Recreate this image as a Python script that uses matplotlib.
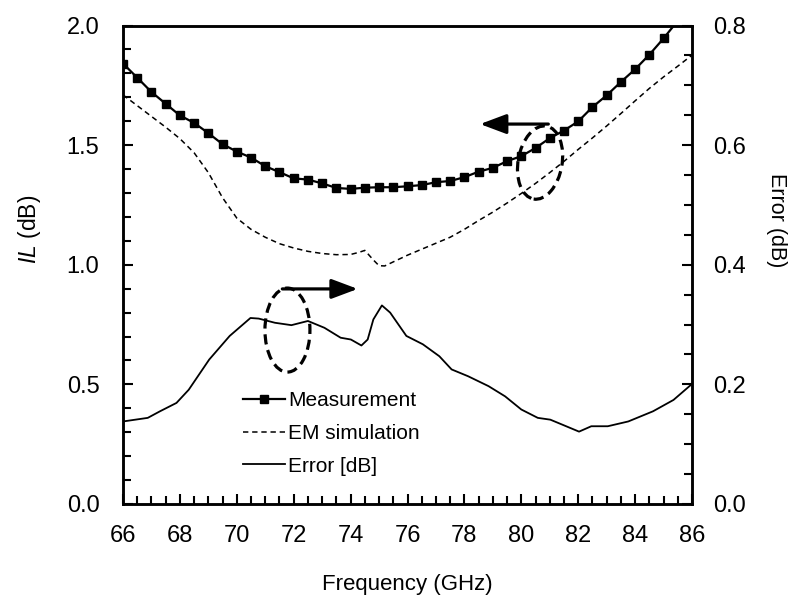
import matplotlib
matplotlib.use("Agg")
import matplotlib.pyplot as plt
from matplotlib.patches import Ellipse
from matplotlib.ticker import MultipleLocator
from matplotlib.transforms import ScaledTranslation

plt.rcParams['font.family'] = ['Liberation Sans', 'DejaVu Sans']
plt.rcParams['mathtext.fontset'] = 'custom'
plt.rcParams['mathtext.it'] = 'Liberation Sans:italic'
plt.rcParams['mathtext.rm'] = 'Liberation Sans'

# measurement (markers every 0.5 GHz)
meas_f = [66.0, 66.5, 67.0, 67.5, 68.0, 68.5, 69.0, 69.5, 70.0, 70.5,
          71.0, 71.5, 72.0, 72.5, 73.0, 73.5, 74.0, 74.5, 75.0, 75.5,
          76.0, 76.5, 77.0, 77.5, 78.0, 78.5, 79.0, 79.5, 80.0, 80.5,
          81.0, 81.5, 82.0, 82.5, 83.0, 83.5, 84.0, 84.5, 85.0, 85.5]
meas_il = [1.841, 1.782, 1.722, 1.673, 1.624, 1.593, 1.550, 1.504, 1.473, 1.448,
           1.412, 1.387, 1.361, 1.356, 1.340, 1.321, 1.317, 1.322, 1.324, 1.324,
           1.328, 1.333, 1.345, 1.350, 1.366, 1.389, 1.405, 1.433, 1.454, 1.488,
           1.529, 1.561, 1.599, 1.659, 1.708, 1.764, 1.817, 1.878, 1.946, 2.020]

# EM simulation
sim_f = [66.0, 66.5, 67.0, 67.5, 68.0, 68.5, 69.0, 69.5, 70.0, 70.5,
         71.0, 71.5, 72.0, 72.5, 73.0, 73.5, 74.0, 74.3, 74.5, 74.8,
         75.0, 75.2, 75.5, 76.0, 76.5, 77.0, 77.5, 78.0, 78.5, 79.0,
         79.5, 80.0, 80.5, 81.0, 81.5, 82.0, 82.5, 83.0, 83.5, 84.0,
         84.5, 85.0, 85.5, 86.0]
sim_il = [1.710, 1.665, 1.620, 1.575, 1.527, 1.468, 1.385, 1.280, 1.195, 1.148,
          1.115, 1.088, 1.070, 1.056, 1.047, 1.042, 1.043, 1.052, 1.060, 1.020,
          0.996, 0.995, 1.012, 1.040, 1.065, 1.090, 1.115, 1.148, 1.185, 1.220,
          1.258, 1.298, 1.340, 1.385, 1.432, 1.482, 1.530, 1.580, 1.632, 1.685,
          1.737, 1.785, 1.830, 1.876]

# error (right axis)
err_f = [66.0, 66.87, 67.3, 67.88, 68.31, 69.03, 69.75, 70.48, 70.77, 71.34,
         71.92, 72.5, 73.08, 73.65, 74.01, 74.38, 74.6, 74.8, 75.1, 75.39,
         75.96, 76.54, 77.12, 77.55, 78.13, 78.85, 79.43, 80.0, 80.58, 81.02,
         81.45, 82.03, 82.46, 83.04, 83.76, 84.63, 85.35, 86.0]
err_db = [0.138, 0.144, 0.155, 0.169, 0.191, 0.2415, 0.281, 0.311, 0.310, 0.303,
          0.299, 0.306, 0.2946, 0.278, 0.275, 0.265, 0.275, 0.3086, 0.332, 0.320,
          0.281, 0.267, 0.247, 0.225, 0.2136, 0.197, 0.180, 0.158, 0.144, 0.141,
          0.1325, 0.121, 0.130, 0.130, 0.138, 0.155, 0.174, 0.2007]

fig = plt.figure(figsize=(7.93, 6.10), dpi=100)
ax = fig.add_axes([123 / 793, 1 - 504 / 610, 569 / 793, 478.5 / 610])
ax2 = ax.twinx()

l1, = ax.plot(meas_f, meas_il, color='black', lw=1.6, marker='s', ms=5.8,
              label='Measurement')
l2, = ax.plot(sim_f, sim_il, color='black', lw=1.1, ls=(0, (3.5, 2.5)),
              label='EM simulation')
l3, = ax2.plot(err_f, err_db, color='black', lw=1.3, label='Error [dB]')

ax.set_xlim(66, 86)
ax.set_ylim(0, 2.0)
ax2.set_ylim(0, 0.8)

ax.xaxis.set_major_locator(MultipleLocator(2))
ax.xaxis.set_minor_locator(MultipleLocator(0.5))
ax.yaxis.set_major_locator(MultipleLocator(0.5))
ax.yaxis.set_minor_locator(MultipleLocator(0.1))
ax2.yaxis.set_major_locator(MultipleLocator(0.2))
ax2.yaxis.set_minor_locator(MultipleLocator(0.05))
ax.yaxis.set_major_formatter(plt.FormatStrFormatter('%.1f'))
ax2.yaxis.set_major_formatter(plt.FormatStrFormatter('%.1f'))

for a in (ax, ax2):
    for s in a.spines.values():
        s.set_linewidth(1.8)
ax.tick_params(which='both', direction='in', width=1.5, labelsize=17)
ax.tick_params(which='major', length=7)
ax.tick_params(which='minor', length=6)
ax.tick_params(axis='y', pad=17)
ax.tick_params(axis='x', pad=15)
ax2.tick_params(which='both', direction='in', width=1.5, labelsize=17, pad=15)
ax2.tick_params(which='major', length=7)
ax2.tick_params(which='minor', length=6)

ax.set_xlabel('Frequency (GHz)', fontsize=16)
ax.xaxis.set_label_coords(0.5, -0.146)
ax.set_ylabel(r'$IL$ (dB)', fontsize=16.5)
ax.yaxis.set_label_coords(-0.141, 0.573)
ax2.set_ylabel('Error (dB)', fontsize=15.5, rotation=270, va='center')
ax2.yaxis.set_label_coords(1.149, 0.594)

ax2.legend([l1, l2, l3], ['Measurement', 'EM simulation', 'Error [dB]'],
           loc='upper left', bbox_to_anchor=(0.211, 0.236), frameon=False,
           fontsize=15, numpoints=1, handlelength=2.0, handletextpad=0.15,
           labelspacing=0.66, borderpad=0, borderaxespad=0)

# annotation ellipses (sized in inches, placed in data coords) and arrows
def ring(x, y, w, h, angle):
    tr = fig.dpi_scale_trans + ScaledTranslation(x, y, ax.transData)
    ax.add_patch(Ellipse((0, 0), w, h, angle=angle, fill=False, lw=2.3,
                         ls=(0, (3.2, 1.8)), color='black', transform=tr))

ring(71.78, 0.727, 0.45, 0.84, 0)
ring(80.66, 1.427, 0.44, 0.74, -10)
arrow = dict(arrowstyle='-|>,head_length=0.8,head_width=0.3', color='black',
             lw=2.3, mutation_scale=20, shrinkA=0, shrinkB=0)
ax.annotate('', xy=(74.25, 0.899), xytext=(71.6, 0.899), arrowprops=arrow)
ax.annotate('', xy=(78.55, 1.588), xytext=(80.95, 1.588), arrowprops=arrow)

fig.savefig('out.png', dpi=100)
